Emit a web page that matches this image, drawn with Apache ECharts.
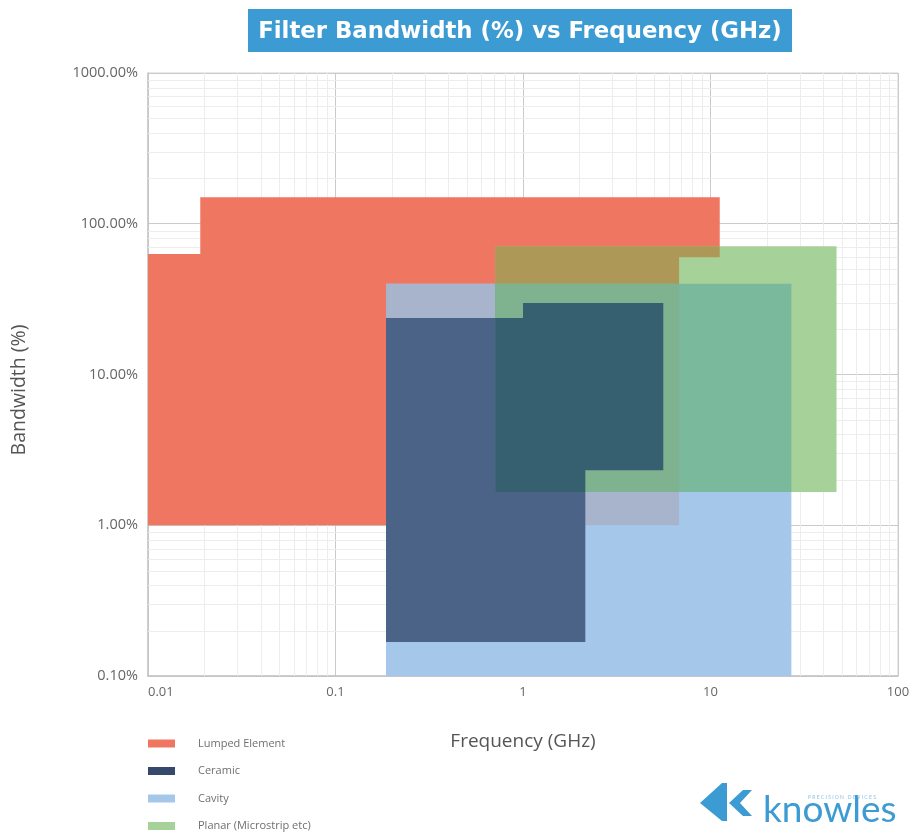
<!DOCTYPE html>
<html><head><meta charset="utf-8">
<script src="https://cdn.jsdelivr.net/npm/echarts@6/dist/echarts.min.js"></script>
<style>html,body{margin:0;padding:0;background:#fff}#c{width:914px;height:834px}</style>
</head><body><div id="c"></div>
<script>
// ---- data (frequency in GHz, bandwidth in %) ----
const xTicks = [0.01, 0.1, 1, 10, 100];
const xTickLabels = ['0.01', '0.1', '1', '10', '100'];
const yTicks = [0.1, 1, 10, 100, 1000];
const yTickLabels = ['0.10%', '1.00%', '10.00%', '100.00%', '1000.00%'];
const minorSteps = [2, 3, 4, 5, 6, 7, 8, 9];

const seriesNames = ['Lumped Element', 'Ceramic', 'Cavity', 'Planar (Microstrip etc)'];

const lumpedFreq = [0.01, 0.01, 0.019, 0.019, 11.2, 11.2, 6.8, 6.8];
const lumpedBw   = [1, 63, 63, 150, 150, 60, 60, 1];

const ceramicFreq = [0.186, 0.186, 1.0, 1.0, 5.6, 5.6, 2.15, 2.15];
const ceramicBw   = [0.168, 23.7, 23.7, 29.8, 29.8, 2.32, 2.32, 0.168];

const cavityFreq = [0.186, 27];
const cavityBw   = [0.1, 40];

const planarFreq = [0.71, 47];
const planarBw   = [1.66, 71];

// ---- colours ----
const C = {
  lumped: '#ef7661',
  cavity: '#a5c8ea',
  cavityOnLumped: '#a8b3cc',
  ceramic: '#4a6387',
  planar: '#a6d199',
  planarOnLumped: '#ae9858',
  planarOnCavity: '#7bb99c',
  planarOnCavityLumped: '#7fb390',
  planarOnCeramic: '#365f6f'
};
const legendColors = ['#ef7661', '#37496b', '#a5c8ea', '#a6d199'];

// ---- geometry helpers (data space) ----
function toPts(fs, bs) { return fs.map((f, i) => [f, bs[i]]); }
function rectPts(fs, bs) { return [[fs[0], bs[0]], [fs[0], bs[1]], [fs[1], bs[1]], [fs[1], bs[0]]]; }
function clipToRect(pts, x0, x1, y0, y1) {
  const edges = [
    { inside: p => p[0] >= x0, cut: (a, b) => { const t = (x0 - a[0]) / (b[0] - a[0]); return [x0, a[1] + t * (b[1] - a[1])]; } },
    { inside: p => p[0] <= x1, cut: (a, b) => { const t = (x1 - a[0]) / (b[0] - a[0]); return [x1, a[1] + t * (b[1] - a[1])]; } },
    { inside: p => p[1] >= y0, cut: (a, b) => { const t = (y0 - a[1]) / (b[1] - a[1]); return [a[0] + t * (b[0] - a[0]), y0]; } },
    { inside: p => p[1] <= y1, cut: (a, b) => { const t = (y1 - a[1]) / (b[1] - a[1]); return [a[0] + t * (b[0] - a[0]), y1]; } }
  ];
  let out = pts;
  for (const e of edges) {
    const inp = out; out = [];
    if (!inp.length) break;
    for (let i = 0; i < inp.length; i++) {
      const cur = inp[i], prev = inp[(i + inp.length - 1) % inp.length];
      const ci = e.inside(cur), pi = e.inside(prev);
      if (ci) { if (!pi) out.push(e.cut(prev, cur)); out.push(cur); }
      else if (pi) out.push(e.cut(prev, cur));
    }
  }
  return out;
}
const lumpedPts = toPts(lumpedFreq, lumpedBw);
const ceramicPts = toPts(ceramicFreq, ceramicBw);
const cavityPts = rectPts(cavityFreq, cavityBw);
const planarPts = rectPts(planarFreq, planarBw);
const cavPlanF = [Math.max(cavityFreq[0], planarFreq[0]), Math.min(cavityFreq[1], planarFreq[1])];
const cavPlanB = [Math.max(cavityBw[0], planarBw[0]), Math.min(cavityBw[1], planarBw[1])];

const cavityOnLumpedPts = clipToRect(lumpedPts, cavityFreq[0], cavityFreq[1], cavityBw[0], cavityBw[1]);
const planarOnLumpedPts = clipToRect(lumpedPts, planarFreq[0], planarFreq[1], planarBw[0], planarBw[1]);
const planarOnCavityPts = rectPts(cavPlanF, cavPlanB);
const planarOnCavLumpPts = clipToRect(lumpedPts, cavPlanF[0], cavPlanF[1], cavPlanB[0], cavPlanB[1]);
const planarOnCeramicPts = clipToRect(ceramicPts, planarFreq[0], planarFreq[1], planarBw[0], planarBw[1]);

function poly(api, pts, fill) {
  return { type: 'polygon', shape: { points: pts.map(p => api.coord(p)) }, style: { fill: fill } };
}
function shapeSeries(name, layers) {
  return {
    type: 'custom', name: name, coordinateSystem: 'cartesian2d', silent: true,
    data: [[1, 1]], clip: false, z: 3,
    itemStyle: { color: layers[0][1] },
    renderItem: (params, api) => ({ type: 'group', children: layers.map(l => poly(api, l[0], l[1])) })
  };
}

function tickLabel(ticks, labels) {
  return v => {
    for (let i = 0; i < ticks.length; i++) if (Math.abs(Math.log10(ticks[i]) - Math.log10(v)) < 1e-6) return labels[i];
    return '';
  };
}

const chart = echarts.init(document.getElementById('c'), null, { renderer: 'canvas' });
const font = 'Open Sans';
chart.setOption({
  animation: false,
  backgroundColor: '#ffffff',
  title: {
    text: 'Filter Bandwidth (%) vs Frequency (GHz)',
    left: 520, textAlign: 'center', top: 21, padding: 0,
    textStyle: { color: '#ffffff', fontFamily: 'DejaVu Sans', fontWeight: 'bold', fontSize: 22.8 }
  },
  graphic: [
    { type: 'rect', left: 248, top: 9, z: -1, shape: { width: 544, height: 43 }, style: { fill: '#3d9bd4' } },
    { type: 'text', z: 10, x: 19, y: 390, rotation: Math.PI / 2,
      style: { text: 'Bandwidth (%)', fill: '#555555', font: '400 19.5px "Open Sans"', align: 'center', verticalAlign: 'middle' } },
    { type: 'polygon', z: 10, shape: { points: [[700, 803], [722, 783], [727, 783], [727, 821], [722, 821]] }, style: { fill: '#3d9bd4' } },
    { type: 'polygon', z: 10, shape: { points: [[729, 803], [743, 790], [752, 790], [740, 803], [752, 816], [743, 816]] }, style: { fill: '#3d9bd4' } },
    { type: 'text', z: 10, left: 763, top: 792, style: { text: 'knowles', fill: '#3d9bd4', font: '400 37px Lato' } },
    { type: 'text', z: 10, left: 808, top: 795, style: { text: 'P R E C I S I O N   D E V I C E S', fill: '#8cc3e6', font: '400 5px Lato' } }
  ],
  legend: {
    orient: 'vertical', left: 148, top: 737, padding: 0,
    icon: 'rect', itemWidth: 27, itemHeight: 8, itemGap: 14.5,
    textStyle: { color: '#6f6f6f', fontSize: 11, fontFamily: font, lineHeight: 13, padding: [0, 0, 0, 18] },
    data: seriesNames.map((n, i) => ({ name: n, itemStyle: { color: legendColors[i] } })),
    selectedMode: false
  },
  grid: { left: 148, right: 16, top: 73, bottom: 158, show: true, borderColor: '#d2d2d2', borderWidth: 1 },
  xAxis: {
    type: 'log', logBase: 10, min: 0.01, max: 100,
    name: 'Frequency (GHz)', nameLocation: 'middle', nameGap: 56,
    nameTextStyle: { color: '#555555', fontSize: 19, fontFamily: font },
    axisLine: { lineStyle: { color: '#c4c4c4', width: 1.5 } },
    axisTick: { show: false },
    axisLabel: { color: '#666666', fontSize: 13, fontFamily: font, margin: 10, alignMinLabel: 'left', formatter: tickLabel(xTicks, xTickLabels) },
    splitLine: { show: true, lineStyle: { color: '#cbcbcb', width: 1 } },
    minorTick: { show: false }, minorSplitLine: { show: false }
  },
  yAxis: {
    type: 'log', logBase: 10, min: 0.1, max: 1000,
    axisLine: { show: true, lineStyle: { color: '#c4c4c4', width: 1.5 } },
    axisTick: { show: false },
    axisLabel: { color: '#666666', fontSize: 14.5, fontFamily: font, margin: 10, formatter: tickLabel(yTicks, yTickLabels) },
    splitLine: { show: true, lineStyle: { color: '#cbcbcb', width: 1 } },
    minorTick: { show: false }, minorSplitLine: { show: false }
  },
  series: [
    {
      type: 'custom', name: 'minorGrid', coordinateSystem: 'cartesian2d', silent: true, data: [[1, 1]], z: 1,
      renderItem: (params, api) => {
        const children = [];
        xTicks.slice(0, -1).forEach(d => minorSteps.forEach(m => {
          const a = api.coord([d * m, yTicks[0]]), b = api.coord([d * m, yTicks[yTicks.length - 1]]);
          children.push({ type: 'line', shape: { x1: Math.round(a[0]) + 0.5, y1: a[1], x2: Math.round(b[0]) + 0.5, y2: b[1] }, style: { stroke: '#ededed', lineWidth: 1 } });
        }));
        yTicks.slice(0, -1).forEach(d => minorSteps.forEach(m => {
          const a = api.coord([xTicks[0], d * m]), b = api.coord([xTicks[xTicks.length - 1], d * m]);
          children.push({ type: 'line', shape: { x1: a[0], y1: Math.round(a[1]) + 0.5, x2: b[0], y2: Math.round(b[1]) + 0.5 }, style: { stroke: '#ededed', lineWidth: 1 } });
        }));
        return { type: 'group', children: children };
      }
    },
    shapeSeries(seriesNames[0], [[lumpedPts, C.lumped]]),
    shapeSeries(seriesNames[2], [[cavityPts, C.cavity], [cavityOnLumpedPts, C.cavityOnLumped]]),
    shapeSeries(seriesNames[1], [[ceramicPts, C.ceramic]]),
    shapeSeries(seriesNames[3], [
      [planarPts, C.planar],
      [planarOnLumpedPts, C.planarOnLumped],
      [planarOnCavityPts, C.planarOnCavity],
      [planarOnCavLumpPts, C.planarOnCavityLumped],
      [planarOnCeramicPts, C.planarOnCeramic]
    ])
  ]
});
</script>
</body></html>
